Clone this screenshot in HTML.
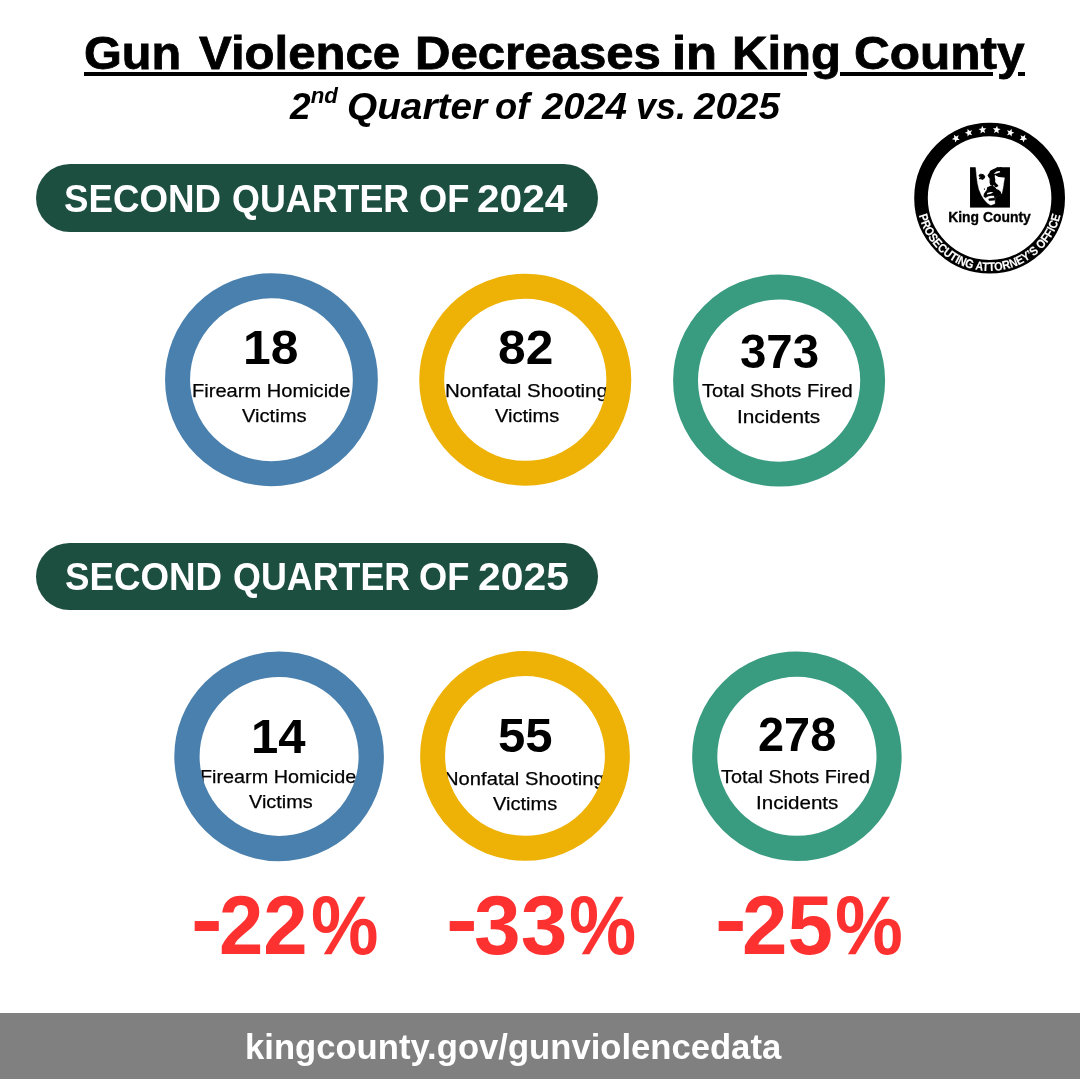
<!DOCTYPE html>
<html lang="en">
<head>
<meta charset="utf-8">
<title>Gun Violence Decreases in King County</title>
<style>
html,body{margin:0;padding:0;background:#fff}
body{width:1080px;height:1080px;position:relative;overflow:hidden;font-family:"Liberation Sans", sans-serif;color:#000}
.t{position:absolute;margin:0;padding:0;white-space:nowrap;line-height:0;font-weight:700;transform-origin:0 0;font-family:"Liberation Sans", sans-serif}
.g{position:absolute;left:0;top:0;margin:0;padding:0;font-size:0;line-height:0}
.ul{position:absolute;top:71.9px;height:3.9px;background:#000}
h2 sup{font-size:.6em;line-height:0;vertical-align:baseline;position:relative;top:-.735em}
.pill{position:absolute;left:36px;width:562px;height:68px;border-radius:34px;background:#1c4f40}
.ring{position:absolute;left:0;top:0;width:1080px;height:1080px}
.footer{position:absolute;left:0;top:1013px;width:1080px;height:66px;background:#808080}
.logo{position:absolute;left:900px;top:110px;width:180px;height:180px}
</style>
</head>
<body>
<header>
<h1 class="g"><span class="t" style="left:84.23px;top:52.86px;font-size:46.0px;transform:scaleX(1.0574);-webkit-text-stroke:0.8px #000">Gun</span> <span class="t" style="left:198.99px;top:52.86px;font-size:46.0px;transform:scaleX(1.0680);-webkit-text-stroke:0.8px #000">Violence</span> <span class="t" style="left:415.34px;top:52.86px;font-size:46.0px;transform:scaleX(1.0680);-webkit-text-stroke:0.8px #000">Decreases</span> <span class="t" style="left:672.00px;top:52.86px;font-size:46.0px;transform:scaleX(1.1031);-webkit-text-stroke:0.8px #000">in</span> <span class="t" style="left:731.54px;top:52.86px;font-size:46.0px;transform:scaleX(1.0676);-webkit-text-stroke:0.8px #000">King</span> <span class="t" style="left:854.00px;top:52.86px;font-size:46.0px;transform:scaleX(1.0765);-webkit-text-stroke:0.8px #000">County</span></h1>
<div class="ul" style="left:84.1px;width:722.6px"></div><div class="ul" style="left:840px;width:152.5px"></div><div class="ul" style="left:1018.3px;width:6.7px"></div>
<h2 class="g"><span class="t" style="left:290.38px;top:106.21px;font-size:37.2px;transform:scaleX(0.9976);font-style:italic">2<sup>nd</sup></span> <span class="t" style="left:346.86px;top:106.21px;font-size:37.2px;transform:scaleX(1.0431);font-style:italic">Quarter</span> <span class="t" style="left:495.13px;top:106.21px;font-size:37.2px;transform:scaleX(0.9779);font-style:italic">of</span> <span class="t" style="left:541.85px;top:106.21px;font-size:37.2px;transform:scaleX(1.0281);font-style:italic">2024</span> <span class="t" style="left:635.57px;top:106.21px;font-size:37.2px;transform:scaleX(0.9672);font-style:italic">vs.</span> <span class="t" style="left:694.35px;top:106.21px;font-size:37.2px;transform:scaleX(1.0388);font-style:italic">2025</span></h2>
</header>
<svg class="logo" viewBox="900 110 180 180" role="img" aria-label="King County Prosecuting Attorney's Office">
<circle cx="989.6" cy="198.1" r="68.60" fill="#fff" stroke="#000" stroke-width="13.60"/>
<g fill="#fff"><polygon points="953.91,134.76 956.13,136.55 958.70,135.32 957.69,137.98 959.65,140.04 956.81,139.90 955.45,142.41 954.71,139.66 951.90,139.15 954.29,137.59"/><polygon points="967.62,128.80 969.43,131.00 972.19,130.32 970.66,132.72 972.16,135.14 969.40,134.43 967.56,136.60 967.39,133.76 964.76,132.68 967.41,131.64"/><polygon points="982.13,125.79 983.45,128.31 986.30,128.20 984.31,130.24 985.29,132.92 982.73,131.65 980.49,133.41 980.90,130.59 978.54,129.00 981.35,128.52"/><polygon points="997.07,125.79 997.85,128.52 1000.66,129.00 998.30,130.59 998.71,133.41 996.47,131.65 993.91,132.92 994.89,130.24 992.90,128.20 995.75,128.31"/><polygon points="1011.58,128.80 1011.79,131.64 1014.44,132.68 1011.81,133.76 1011.64,136.60 1009.80,134.43 1007.04,135.14 1008.54,132.72 1007.01,130.32 1009.77,131.00"/><polygon points="1025.29,134.76 1024.91,137.59 1027.30,139.15 1024.49,139.66 1023.75,142.41 1022.39,139.90 1019.55,140.04 1021.51,137.98 1020.50,135.32 1023.07,136.55"/></g>
<path id="arc" d="M916.70,198.1 A72.9,72.9 0 0 0 1062.50,198.1" fill="none"/>
<text font-family="'Liberation Sans',sans-serif" font-weight="700" font-size="12.2" fill="#fff" stroke="#fff" stroke-width="0.15" text-anchor="middle" textLength="194" lengthAdjust="spacingAndGlyphs"><textPath href="#arc" startOffset="50%" textLength="194" lengthAdjust="spacingAndGlyphs">PROSECUTING ATTORNEY’S OFFICE</textPath></text>
<clipPath id="sq"><rect x="50" y="55" width="980" height="990"/></clipPath>
<g transform="translate(968,165) scale(0.040741)" stroke-linejoin="round">
<rect x="50" y="55" width="980" height="990" fill="#000"/>
<path fill="#fff" stroke="#fff" stroke-width="8" d="M190,40 L760,40 L790,150 L880,290 L900,300 L880,420 L860,560 L830,700 L810,720 L660,800 L660,950 L560,985 L480,940 L400,850 L330,740 L270,600 L235,450 L215,300 L200,150 Z"/>
<path clip-path="url(#sq)" fill="#000" stroke="#000" stroke-width="30" d="M760,30 L690,85 L620,120 L555,155 L535,200 L495,255 L520,300 L545,330 L545,430 L560,480 L600,505 L615,480 L655,475 L665,520 L700,530 L730,510 L680,460 L650,420 L655,350 L640,300 L650,210 L700,250 L760,280 L880,290 L930,300 L840,140 L800,30 Z"/>
<path fill="#fff" d="M640,210 L700,160 L780,150 L790,180 L720,200 L650,218 Z"/>
<path fill="#000" stroke="#000" stroke-width="22" d="M270,250 L310,225 L370,235 L410,270 L405,320 L360,355 L320,340 L270,335 L300,310 L310,290 L275,275 Z"/>
<path fill="#000" stroke="#000" stroke-width="26" d="M480,560 L560,520 L600,530 L640,540 L670,570 L690,600 L740,620 L790,660 L810,720 L660,800 L650,740 L560,740 L480,760 L430,790 L395,770 L400,720 L440,660 L470,620 Z"/>
<path fill="#fff" d="M470,690 L560,660 L625,668 L560,705 L470,722 Z"/>
<path fill="#000" stroke="#000" stroke-width="16" d="M510,832 L650,812 L662,860 L520,872 Z"/>
<ellipse cx="402" cy="590" rx="13" ry="22" fill="#000"/>
</g>
<text x="948.2" y="222.2" font-family="'Liberation Sans',sans-serif" font-weight="700" font-size="15.2" fill="#000" stroke="#000" stroke-width="0.35" textLength="82.6" lengthAdjust="spacingAndGlyphs">King County</text>
</svg>
<section>
<div class="pill" style="top:164px"></div>
<h3 class="g"><span class="t" style="left:64.44px;top:198.63px;font-size:38.6px;transform:scaleX(0.9518);color:#fff">SECOND</span> <span class="t" style="left:232.28px;top:198.63px;font-size:38.6px;transform:scaleX(0.9290);color:#fff">QUARTER</span> <span class="t" style="left:418.51px;top:198.63px;font-size:38.6px;transform:scaleX(0.9391);color:#fff">OF</span> <span class="t" style="left:477.34px;top:198.63px;font-size:38.6px;transform:scaleX(1.0530);color:#fff">2024</span></h3>
<div class="t num" style="left:242.87px;top:346.77px;font-size:49px;transform:scaleX(1.0156)">18</div><div class="t lab" style="left:192.29px;top:390.56px;font-size:18.6px;transform:scaleX(1.0801);font-weight:400;-webkit-text-stroke:0.25px #000">Firearm Homicide</div><div class="t lab" style="left:242.25px;top:416.06px;font-size:18.6px;transform:scaleX(1.0834);font-weight:400;-webkit-text-stroke:0.25px #000">Victims</div>
<svg class="ring" viewBox="0 0 1080 1080" aria-hidden="true"><circle cx="271.45" cy="379.75" r="93.90" fill="none" stroke="#4a80ad" stroke-width="25.00"/></svg>
<div class="t num" style="left:498.02px;top:347.02px;font-size:49px;transform:scaleX(1.0138)">82</div><div class="t lab" style="left:445.16px;top:390.56px;font-size:18.6px;transform:scaleX(1.1021);font-weight:400;-webkit-text-stroke:0.25px #000">Nonfatal Shooting</div><div class="t lab" style="left:495.05px;top:416.06px;font-size:18.6px;transform:scaleX(1.0800);font-weight:400;-webkit-text-stroke:0.25px #000">Victims</div>
<svg class="ring" viewBox="0 0 1080 1080" aria-hidden="true"><circle cx="525.25" cy="379.75" r="93.55" fill="none" stroke="#eeb105" stroke-width="24.90"/></svg>
<div class="t num" style="left:739.71px;top:350.82px;font-size:49px;transform:scaleX(0.9674)">373</div><div class="t lab" style="left:702.18px;top:391.06px;font-size:18.6px;transform:scaleX(1.0806);font-weight:400;-webkit-text-stroke:0.25px #000">Total Shots Fired</div><div class="t lab" style="left:737.22px;top:417.26px;font-size:18.6px;transform:scaleX(1.1178);font-weight:400;-webkit-text-stroke:0.25px #000">Incidents</div>
<svg class="ring" viewBox="0 0 1080 1080" aria-hidden="true"><circle cx="779.1" cy="380.6" r="93.55" fill="none" stroke="#399b7f" stroke-width="24.90"/></svg>
</section>
<section>
<div class="pill" style="top:543px;height:67px"></div>
<h3 class="g"><span class="t" style="left:64.74px;top:576.73px;font-size:38.6px;transform:scaleX(0.9518);color:#fff">SECOND</span> <span class="t" style="left:232.53px;top:576.73px;font-size:38.6px;transform:scaleX(0.9290);color:#fff">QUARTER</span> <span class="t" style="left:418.81px;top:576.73px;font-size:38.6px;transform:scaleX(0.9391);color:#fff">OF</span> <span class="t" style="left:477.58px;top:576.73px;font-size:38.6px;transform:scaleX(1.0586);color:#fff">2025</span></h3>
<div class="t num" style="left:250.66px;top:736.09px;font-size:48.5px;transform:scaleX(1.0121)">14</div><div class="t lab" style="left:199.91px;top:777.26px;font-size:18.6px;transform:scaleX(1.0649);font-weight:400;-webkit-text-stroke:0.25px #000">Firearm Homicide</div><div class="t lab" style="left:248.85px;top:802.26px;font-size:18.6px;transform:scaleX(1.0681);font-weight:400;-webkit-text-stroke:0.25px #000">Victims</div>
<svg class="ring" viewBox="0 0 1080 1080" aria-hidden="true"><circle cx="279.1" cy="756.4" r="92.15" fill="none" stroke="#4a80ad" stroke-width="25.30"/></svg>
<div class="t num" style="left:498.09px;top:734.99px;font-size:48.5px;transform:scaleX(1.0115)">55</div><div class="t lab" style="left:444.28px;top:779.26px;font-size:18.6px;transform:scaleX(1.0870);font-weight:400;-webkit-text-stroke:0.25px #000">Nonfatal Shooting</div><div class="t lab" style="left:493.15px;top:804.26px;font-size:18.6px;transform:scaleX(1.0766);font-weight:400;-webkit-text-stroke:0.25px #000">Victims</div>
<svg class="ring" viewBox="0 0 1080 1080" aria-hidden="true"><circle cx="525" cy="755.95" r="92.38" fill="none" stroke="#eeb105" stroke-width="24.95"/></svg>
<div class="t num" style="left:757.77px;top:733.99px;font-size:48.5px;transform:scaleX(0.9672)">278</div><div class="t lab" style="left:720.99px;top:777.26px;font-size:18.6px;transform:scaleX(1.0676);font-weight:400;-webkit-text-stroke:0.25px #000">Total Shots Fired</div><div class="t lab" style="left:755.54px;top:803.06px;font-size:18.6px;transform:scaleX(1.1068);font-weight:400;-webkit-text-stroke:0.25px #000">Incidents</div>
<svg class="ring" viewBox="0 0 1080 1080" aria-hidden="true"><circle cx="796.9" cy="756.25" r="92.17" fill="none" stroke="#399b7f" stroke-width="25.15"/></svg>
<div class="g pct"><span class="t" style="left:191.09px;top:918.81px;font-size:82.5px;transform:scaleX(1.1499);color:#fe3131">-</span><span class="t" style="left:218.94px;top:925.11px;font-size:82.5px;transform:scaleX(0.9661);color:#fe3131">22</span><span class="t" style="left:311.21px;top:925.11px;font-size:82.5px;transform:scaleX(0.9200);color:#fe3131">%</span></div>
<div class="g pct"><span class="t" style="left:445.68px;top:918.81px;font-size:82.5px;transform:scaleX(1.1547);color:#fe3131">-</span><span class="t" style="left:473.68px;top:925.11px;font-size:82.5px;transform:scaleX(1.0162);color:#fe3131">33</span><span class="t" style="left:568.72px;top:925.11px;font-size:82.5px;transform:scaleX(0.9157);color:#fe3131">%</span></div>
<div class="g pct"><span class="t" style="left:715.19px;top:918.81px;font-size:82.5px;transform:scaleX(1.1499);color:#fe3131">-</span><span class="t" style="left:742.47px;top:925.11px;font-size:82.5px;transform:scaleX(0.9907);color:#fe3131">25</span><span class="t" style="left:834.80px;top:925.11px;font-size:82.5px;transform:scaleX(0.9244);color:#fe3131">%</span></div>
</section>
<footer>
<div class="footer"></div>
<div class="t foot" style="left:244.58px;top:1047.27px;font-size:35px;transform:scaleX(0.9894);color:#fff">kingcounty.gov/gunviolencedata</div>
</footer>
</body>
</html>
